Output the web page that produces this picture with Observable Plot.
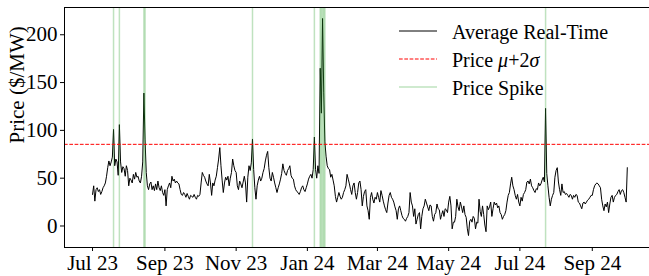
<!DOCTYPE html>
<html>
<head>
<meta charset="utf-8">
<script src="https://cdn.jsdelivr.net/npm/d3@7"></script>
<script src="https://cdn.jsdelivr.net/npm/@observablehq/plot@0.6"></script>
<style>
  html, body { margin: 0; padding: 0; background: white; overflow: hidden; }
</style>
</head>
<body>
<div id="chart"></div>
<script>
// ---- Data (daily average real-time price, $/MW) ----
const startDate = "2023-07-01";
const jul23 = [33,42,26,38,40,36,38,33,36,40,42,45,52,61,68,63,67,72,101,63,70,67,53,106,67,56,62,60,52,63,58];
const aug23 = [42,50,48,45,54,49,56,51,52,47,45,52,67,139,90,56,42,38,44,46,38,42,37,44,38,47,40,37,42,35,32];
const sep23 = [38,21,38,42,45,40,52,47,49,45,47,45,44,38,33,32,35,33,30,34,31,28,32,31,30,33,30,28,32,31];
const oct23 = [33,45,56,53,51,47,44,42,54,45,32,45,42,48,52,61,70,82,63,48,35,45,51,48,52,42,50,56,70,63,58];
const nov23 = [56,42,38,47,44,40,46,52,45,25,51,63,58,66,91,59,40,28,42,48,52,47,50,56,60,68,74,78,61,50];
const dec23 = [47,56,51,45,40,35,40,44,49,55,65,58,55,53,58,60,63,53,50,49,42,38,36,35,33,36,40,42,38,36,40];
const jan24 = [44,49,52,54,50,59,93,59,50,63,55,165,118,217,140,88,73,63,60,59,51,54,48,42,31,25,30,35,31,28,30];
const feb24 = [35,38,42,54,49,44,38,33,42,45,35,28,35,45,47,38,21,31,36,38,21,16,7,30,35,28,24,30,28];
const mar24 = [35,30,25,37,32,26,21,17,14,24,32,35,30,28,25,20,16,7,18,21,16,11,8,7,5,8,10,14,35,25,21];
const apr24 = [10,18,2,7,12,14,-3,10,18,21,28,24,20,16,22,21,10,5,12,14,23,18,17,7,12,16,10,18,17,14];
const may24 = [25,31,21,-3,4,4,10,28,20,16,25,20,14,21,12,9,-3,-10,5,7,4,10,8,-3,4,3,28,15,10,21,12];
const jun24 = [1,-6,21,17,20,25,10,18,25,22,24,19,21,14,12,7,10,12,16,25,32,35,44,51,42,38,32,28,33,25];
const jul24 = [21,30,26,33,35,38,46,47,44,49,42,40,37,35,39,38,45,42,44,48,51,46,123,55,42,30,21,28,32,35,51];
const aug24 = [58,61,46,38,32,44,35,36,33,34,32,30,33,32,28,32,30,33,32,25,24,21,18,24,25,23,25,27,28,30,32];
const sep24 = [32,38,42,44,45,44,42,40,28,21,16,23,20,25,14,23,30,32,25,30,32,33,36,38,33,37,38,35,30,25];
const oct24 = [61];

const threshold = 85.4; // mu + 2 sigma
const spikeDates = ["2023-07-19","2023-07-24","2023-08-14","2023-08-15","2023-11-15",
  "2024-01-07","2024-01-12","2024-01-13","2024-01-14","2024-01-15","2024-01-16","2024-07-23"];
const xTicks = ["2023-07-01","2023-09-01","2023-11-01","2024-01-01","2024-03-01","2024-05-01","2024-07-01","2024-09-01"];
const yTicks = [0, 50, 100, 150, 200];
const xDomain = ["2023-06-07", "2024-10-20"];
const yDomain = [-22.5, 228.5];
const legendLabels = ["Average Real-Time", "Price \u03bc+2\u03c3", "Price Spike"];

// ---- Build ----
const price = [...jul23, ...aug23, ...sep23, ...oct23, ...nov23, ...dec23, ...jan24,
  ...feb24, ...mar24, ...apr24, ...may24, ...jun24, ...jul24, ...aug24, ...sep24, ...oct24];
const start = new Date(startDate);
const data = price.map((v, i) => ({date: d3.utcDay.offset(start, i), price: v}));
const spikes = spikeDates.map(d => new Date(d));
const font = "'Liberation Serif', 'Times New Roman', serif";
const green = "#2ca02c";

const chart = Plot.plot({
  width: 649, height: 276,
  marginLeft: 64, marginRight: 0, marginTop: 7, marginBottom: 29,
  style: {fontFamily: font, fontSize: "21px", background: "white", color: "black", overflow: "visible"},
  x: {type: "utc", domain: xDomain.map(d => new Date(d)), ticks: xTicks.map(d => new Date(d)),
      tickFormat: d3.utcFormat("%b %y"), tickSize: 4, tickPadding: 4, label: null},
  y: {domain: yDomain, ticks: yTicks, tickSize: 4, tickPadding: 3, label: null},
  marks: [
    Plot.lineY(data, {x: "date", y: "price", stroke: "black", strokeWidth: 1}),
    Plot.ruleX(spikes, {x: d => d, stroke: green, strokeOpacity: 0.3, strokeWidth: 1.5}),
    Plot.ruleY([threshold], {stroke: "red", strokeWidth: 1, strokeDasharray: "3.7,1.6"}),
    Plot.ruleY(yDomain, {stroke: "black", strokeWidth: 1}),
    Plot.ruleX([new Date(xDomain[0])], {stroke: "black", strokeWidth: 1}),
    Plot.text(["Price ($/MW)"], {frameAnchor: "left", dx: -47, dy: 16, rotate: -90,
      fontSize: 21, fill: "black"})
  ]
});
document.getElementById("chart").appendChild(chart);

// ---- Legend ----
const svg = d3.select(chart);
const lg = svg.append("g").attr("font-family", font).attr("font-size", 20)
  .attr("text-anchor", "start");
const rows = [
  {y: 31, stroke: "black", opacity: 1, dash: null},
  {y: 59, stroke: "red", opacity: 1, dash: "3.7,1.6"},
  {y: 87, stroke: green, opacity: 0.3, dash: null, width: 1.5}
];
rows.forEach((r, i) => {
  lg.append("line").attr("x1", 399).attr("x2", 437).attr("y1", r.y).attr("y2", r.y)
    .attr("stroke", r.stroke).attr("stroke-opacity", r.opacity)
    .attr("stroke-width", r.width || 1).attr("stroke-dasharray", r.dash);
  const t = lg.append("text").attr("x", 452).attr("y", r.y + 8).attr("fill", "black")
    .attr("text-anchor", "start");
  if (i === 1) {
    t.append("tspan").text("Price ");
    t.append("tspan").attr("font-style", "italic").text("\u03bc");
    t.append("tspan").text("+2");
    t.append("tspan").attr("font-style", "italic").text("\u03c3");
  } else {
    t.text(legendLabels[i]);
  }
});
</script>
</body>
</html>
